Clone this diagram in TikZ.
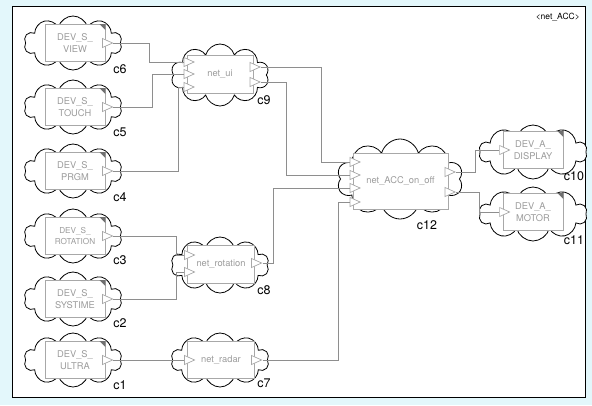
\documentclass[tikz,border=0pt]{standalone}
\usepackage{fontspec}
\setmainfont{TeX Gyre Heros}
\usetikzlibrary{shapes.symbols,shapes.geometric}
\definecolor{bgc}{HTML}{E3F7FB}
\definecolor{boxc}{HTML}{A8A8A8}
\definecolor{txtc}{HTML}{9C9C9C}
\definecolor{wirec}{HTML}{8E8E8E}
\definecolor{cornc}{HTML}{707070}
\tikzset{
 blob/.style={cloud, cloud puffs=10, cloud puff arc=150, aspect=2, draw=black, fill=white, line width=0.8pt, inner sep=0pt},
 devbox/.style={rectangle, draw=boxc, fill=white, line width=0.9pt, minimum width=60pt, minimum height=37pt, inner sep=0pt, text=txtc, font=\fontsize{9.3}{12}\selectfont, align=center},
 netbox/.style={rectangle, draw=boxc, fill=white, line width=0.9pt, inner sep=0pt, text=txtc, font=\fontsize{9.3}{11}\selectfont},
 port/.style={isosceles triangle, isosceles triangle stretches, shape border rotate=0, draw=boxc, fill=white, line width=0.7pt, minimum width=9pt, minimum height=10pt, inner sep=0pt},
 wire/.style={draw=wirec, line width=0.8pt},
 lbl/.style={font=\fontsize{12.5}{14}\selectfont, inner sep=0pt},
}
\newcommand\mkcorner[1]{\fill[cornc] (#1.north east) -- ++(-6,0) -- ++(6,6) -- cycle;}
\begin{document}
\begin{tikzpicture}[x=1pt,y=-1pt]
\useasboundingbox (0,0) rectangle (592,405);
\fill[bgc] (0,0) rectangle (592,405);
\draw[black, fill=white, line width=0.8pt] (12,6) rectangle (585,397);
\node[font=\fontsize{8.5}{9}\selectfont, anchor=east, inner sep=0pt] (title) at (580,17) {<net\_ACC>};

% clouds
\node[blob, minimum width=98pt, minimum height=54pt] (c6cl) at (73,43) {};
\node[blob, minimum width=98pt, minimum height=54pt] (c5cl) at (73,107) {};
\node[blob, minimum width=98pt, minimum height=54pt] (c4cl) at (73,171) {};
\node[blob, minimum width=98pt, minimum height=54pt] (c3cl) at (73,236) {};
\node[blob, minimum width=98pt, minimum height=54pt] (c2cl) at (73,299) {};
\node[blob, minimum width=98pt, minimum height=54pt] (c1cl) at (73,360) {};
\node[blob, minimum width=98pt, minimum height=62pt] (c9cl) at (220,75) {};
\node[blob, minimum width=98pt, minimum height=56pt] (c8cl) at (220,265) {};
\node[blob, minimum width=98pt, minimum height=54pt] (c7cl) at (220,360) {};
\node[blob, minimum width=126pt, minimum height=80pt] (c12cl) at (400,179) {};
\node[blob, minimum width=108pt, minimum height=54pt] (c10cl) at (533,152) {};
\node[blob, minimum width=108pt, minimum height=54pt] (c11cl) at (533,214) {};

% device boxes
\node[devbox] (c6) at (75,43) {DEV\_S\_\\VIEW};
\node[devbox] (c5) at (75,107) {DEV\_S\_\\TOUCH};
\node[devbox] (c4) at (75,171) {DEV\_S\_\\PRGM};
\node[devbox, font=\fontsize{8.2}{11}\selectfont] (c3) at (75,236) {DEV\_S\_\\ROTATION};
\node[devbox] (c2) at (75,299) {DEV\_S\_\\SYSTIME};
\node[devbox] (c1) at (75,360) {DEV\_S\_\\ULTRA};
\node[devbox] (c10) at (533,150) {DEV\_A\_\\DISPLAY};
\node[devbox] (c11) at (533,212) {DEV\_A\_\\MOTOR};
\mkcorner{c6}\mkcorner{c5}\mkcorner{c4}\mkcorner{c3}\mkcorner{c2}\mkcorner{c1}\mkcorner{c10}\mkcorner{c11}

% net boxes
\node[netbox, minimum width=66pt, minimum height=38pt] (c9) at (220,74) {net\_ui};
\node[netbox, minimum width=67pt, minimum height=38pt] (c8) at (221,264) {net\_rotation};
\node[netbox, minimum width=67pt, minimum height=37pt] (c7) at (221,360) {net\_radar};
\node[netbox, minimum width=95pt, minimum height=56pt] (c12) at (400.5,181) {net\_ACC\_on\_off};

% ports
\node[port] (c6o) at (c6.east) {};
\node[port] (c5o) at (c5.east) {};
\node[port] (c4o) at (c4.east) {};
\node[port] (c3o) at (c3.east) {};
\node[port] (c2o) at (c2.east) {};
\node[port] (c1o) at (c1.east) {};
\node[port] (c10i) at (c10.west) {};
\node[port] (c11i) at (c11.west) {};
\node[port] (ui1) at (187,62) {};
\node[port] (ui2) at (187,74) {};
\node[port] (ui3) at (187,87) {};
\node[port] (uo1) at (253,67) {};
\node[port] (uo2) at (253,82) {};
\node[port] (ri1) at (187.5,255) {};
\node[port] (ri2) at (187.5,272) {};
\node[port] (ro) at (254.5,263) {};
\node[port] (di) at (187.5,360) {};
\node[port] (do) at (254.5,360) {};
\node[port] (a1) at (353,162) {};
\node[port] (a2) at (353,175) {};
\node[port] (a3) at (353,188) {};
\node[port] (a4) at (353,202) {};
\node[port] (ao1) at (448,172) {};
\node[port] (ao2) at (448,192) {};

% labels
\node[lbl] (l6) at (120,69) {c6};
\node[lbl] (l5) at (120,132) {c5};
\node[lbl] (l4) at (120,197) {c4};
\node[lbl] (l3) at (120,260) {c3};
\node[lbl] (l2) at (120,323) {c2};
\node[lbl] (l1) at (120,385) {c1};
\node[lbl] (l9) at (264,100) {c9};
\node[lbl] (l8) at (264,290) {c8};
\node[lbl] (l7) at (264,383) {c7};
\node[lbl] (l12) at (427,225) {c12};
\node[lbl] (l10) at (574,176) {c10};
\node[lbl] (l11) at (574,240) {c11};

% wires
\draw[wire] (c6o.east) -- ++(36,0) |- (ui1.west);
\draw[wire] (c5o.east) -- ++(39,0) |- (ui2.west);
\draw[wire] (c4o.east) -- ++(65,0) |- (ui3.west);
\draw[wire] (c3o.east) -- ++(63,0) |- (ri1.west);
\draw[wire] (c2o.east) -- ++(63,0) |- (ri2.west);
\draw[wire] (c1o.east) -- (di.west);
\draw[wire] (uo1.east) -- ++(60,0) |- (a1.west);
\draw[wire] (uo2.east) -- ++(25,0) |- (a2.west);
\draw[wire] (ro.east) -- ++(11,0) |- (a3.west);
\draw[wire] (do.east) -- ++(76,0) |- (a4.west);
\draw[wire] (ao1.east) -- ++(19,0) |- (c10i.west);
\draw[wire] (ao2.east) -- ++(23,0) |- (c11i.west);
\end{tikzpicture}
\end{document}
